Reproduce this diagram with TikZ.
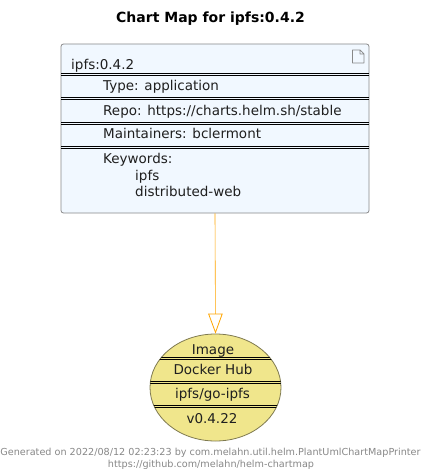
\documentclass[tikz,border=0pt]{standalone}
\usepackage{fontspec}
\setmainfont{DejaVu Sans}
\usetikzlibrary{arrows.meta,shapes.geometric}
\definecolor{boxfill}{HTML}{F1F8FF}
\definecolor{boxline}{HTML}{888888}
\definecolor{ellfill}{HTML}{F0E68C}
\definecolor{ellline}{HTML}{7F7A50}
\definecolor{conn}{HTML}{FFA500}
\definecolor{foot}{HTML}{888888}
\tikzset{x=1pt,y=-1pt,
  lbl/.style={inner sep=0pt,font=\fontsize{13.5}{16}\selectfont,text=black!88,anchor=base west},
  clbl/.style={inner sep=0pt,font=\fontsize{13.5}{16}\selectfont,text=black!88,anchor=base},
  footer/.style={inner sep=0pt,font=\fontsize{9.65}{12}\selectfont,text=foot,anchor=base},
  sep/.style={draw=black,line width=0.5pt},
  chartbox/.style={draw=boxline,fill=boxfill,line width=0.8pt,rounded corners=2.5pt,minimum width=308pt,minimum height=169pt,inner sep=0pt},
  imgell/.style={ellipse,draw=ellline,fill=ellfill,line width=0.8pt,minimum width=131pt,minimum height=107pt,inner sep=0pt},
  link/.style={draw=conn,line width=0.6pt,-{Triangle[open,fill=white,length=20pt,width=14.5pt,line width=0.8pt]}}
}
\begin{document}
\begin{tikzpicture}
\useasboundingbox[fill=white] (0,0) rectangle (428,476);
\node[inner sep=0pt,anchor=base,font=\fontsize{14}{16}\selectfont\bfseries] (title) at (210.5,23) {Chart Map for ipfs:0.4.2};
\node[chartbox] (chart) at (215,128.5) {};
\node[imgell] (image) at (215.5,387.5) {};
\draw[link] (chart.south) -- (image.north);
% chart separators
\foreach \y in {73.5,75.5,97.5,99.5,122,124,146,148}
  \draw[sep] (61,\y) -- (369,\y);
\draw[boxline,line width=0.7pt,fill=boxfill,line join=round]
  (352.5,50) -- (360,50) -- (364,54) -- (364,63) -- (352.5,63) -- cycle
  (360,50) -- (360,54) -- (364,54);
\node[lbl] (n1) at (71,70) {ipfs:0.4.2};
\node[lbl] (n2) at (103,91) {Type: application};
\node[lbl] (n3) at (103,115) {Repo: https://charts.helm.sh/stable};
\node[lbl] (n4) at (103,139) {Maintainers: bclermont};
\node[lbl] (n5) at (103,163) {Keywords:};
\node[lbl] (n6) at (135,180) {ipfs};
\node[lbl] (n7) at (135,196) {distributed-web};
% image separators
\begin{scope}
\clip (215.5,387.5) ellipse [x radius=65.5pt,y radius=53.5pt];
\foreach \y in {357,359,381,383,405,407}
  \draw[sep] (140,\y) -- (290,\y);
\end{scope}
\node[clbl] (m1) at (213,354) {Image};
\node[clbl] (m2) at (213,374) {Docker Hub};
\node[clbl] (m3) at (212.5,398) {ipfs/go-ipfs};
\node[clbl] (m4) at (212,423) {v0.4.22};
\node[footer] (f1) at (210.5,455) {Generated on 2022/08/12 02:23:23 by com.melahn.util.helm.PlantUmlChartMapPrinter};
\node[footer] (f2) at (211,467) {https://github.com/melahn/helm-chartmap};
\end{tikzpicture}
\end{document}
